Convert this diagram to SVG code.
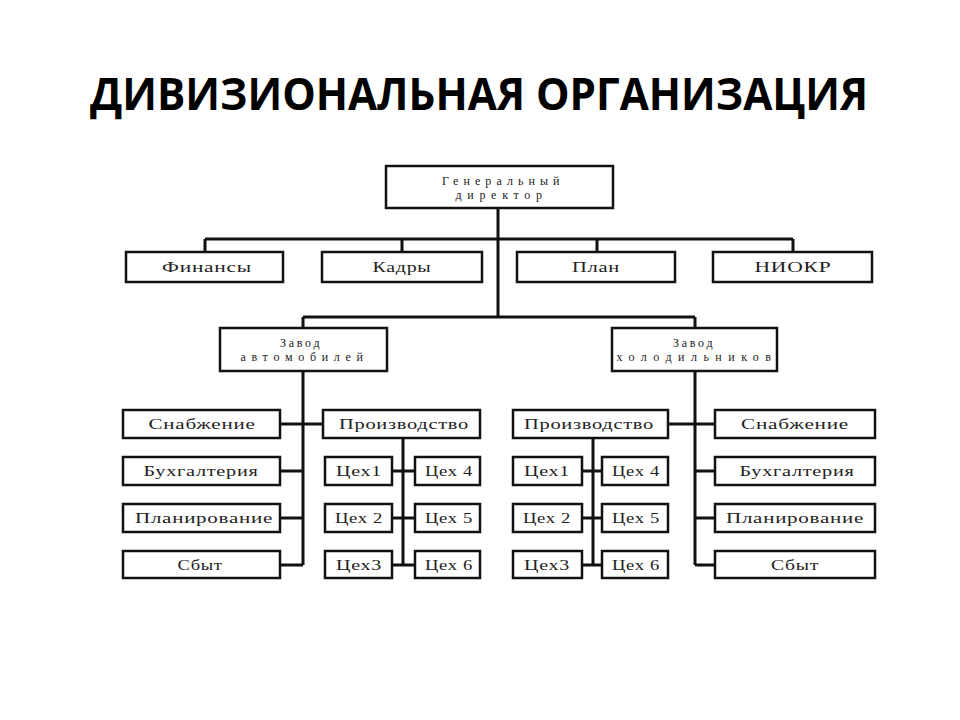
<svg xmlns="http://www.w3.org/2000/svg" width="960" height="720" viewBox="0 0 960 720">
<style>
.b{fill:#fff;stroke:#111;stroke-width:2.5}
.t{font-family:"Liberation Serif",serif;font-size:14px;fill:#222;text-anchor:middle;letter-spacing:0.5px}
.s{font-size:12px}
.c{fill:none;stroke:#111;stroke-width:3}
.title{font-family:"Open Sans","Liberation Sans",sans-serif;font-weight:bold;font-size:45px;fill:#000;text-anchor:middle}
</style>
<rect width="960" height="720" fill="#fff"/>
<text class="title" x="479" y="110" textLength="778" lengthAdjust="spacingAndGlyphs">ДИВИЗИОНАЛЬНАЯ ОРГАНИЗАЦИЯ</text>
<g id="connectors">
<path class="c" d="M498 208V317M205 239H793M205 239V252M402 239V252M597 239V252M793 239V252"/>
<path class="c" d="M303 317H695M303 317V328M695 317V328"/>
<path class="c" d="M303 371V565M280 424H325M280 471H303M280 518H303M280 565H303"/>
<path class="c" d="M403 438V565M392 471H415M392 518H415M392 565H415"/>
<path class="c" d="M695 371V565M668 424H715M695 471H715M695 518H715M695 565H715"/>
<path class="c" d="M593 438V565M582 471H602M582 518H602M582 565H602"/>
</g>
<g id="gen"><rect class="b" x="386" y="166" width="227" height="42"/><text class="t s" x="501" y="185" textLength="118">Генеральный</text><text class="t s" x="499" y="199" textLength="87">директор</text></g>
<g id="fin"><rect class="b" x="126" y="252" width="157" height="30"/><text class="t" x="207" y="272" textLength="90" lengthAdjust="spacingAndGlyphs">Финансы</text></g>
<g id="kadry"><rect class="b" x="322" y="252" width="160" height="30"/><text class="t" x="402" y="272" textLength="59" lengthAdjust="spacingAndGlyphs">Кадры</text></g>
<g id="plan"><rect class="b" x="517" y="252" width="158" height="30"/><text class="t" x="596" y="272" textLength="48" lengthAdjust="spacingAndGlyphs">План</text></g>
<g id="niokr"><rect class="b" x="713" y="252" width="159" height="30"/><text class="t" x="793" y="272" textLength="77" lengthAdjust="spacingAndGlyphs">НИОКР</text></g>
<g id="zavod-auto"><rect class="b" x="220" y="328" width="167" height="43"/><text class="t s" x="300" y="347" textLength="40">Завод</text><text class="t s" x="302" y="361" textLength="123">автомобилей</text></g>
<g id="zavod-hol"><rect class="b" x="612" y="328" width="165" height="43"/><text class="t s" x="693" y="347" textLength="40">Завод</text><text class="t s" x="694" y="361" textLength="155">холодильников</text></g>
<g id="l-snab"><rect class="b" x="123" y="410" width="157" height="28"/><text class="t" x="202" y="429" textLength="107" lengthAdjust="spacingAndGlyphs">Снабжение</text></g>
<g id="l-buh"><rect class="b" x="123" y="457" width="157" height="28"/><text class="t" x="201" y="476" textLength="115" lengthAdjust="spacingAndGlyphs">Бухгалтерия</text></g>
<g id="l-plan"><rect class="b" x="123" y="504" width="157" height="28"/><text class="t" x="204" y="523" textLength="138" lengthAdjust="spacingAndGlyphs">Планирование</text></g>
<g id="l-sbyt"><rect class="b" x="123" y="551" width="157" height="27"/><text class="t" x="200" y="570" textLength="45" lengthAdjust="spacingAndGlyphs">Сбыт</text></g>
<g id="l-proizv"><rect class="b" x="323" y="410" width="157" height="28"/><text class="t" x="404" y="429" textLength="130" lengthAdjust="spacingAndGlyphs">Производство</text></g>
<g id="l-c1"><rect class="b" x="325" y="457" width="67" height="28"/><text class="t" x="359" y="476" textLength="46" lengthAdjust="spacingAndGlyphs">Цех1</text></g>
<g id="l-c2"><rect class="b" x="325" y="504" width="67" height="28"/><text class="t" x="359" y="523" textLength="48" lengthAdjust="spacingAndGlyphs">Цех 2</text></g>
<g id="l-c3"><rect class="b" x="325" y="551" width="67" height="27"/><text class="t" x="359" y="570" textLength="46" lengthAdjust="spacingAndGlyphs">Цех3</text></g>
<g id="l-c4"><rect class="b" x="415" y="457" width="65" height="28"/><text class="t" x="449" y="476" textLength="48" lengthAdjust="spacingAndGlyphs">Цех 4</text></g>
<g id="l-c5"><rect class="b" x="415" y="504" width="65" height="28"/><text class="t" x="449" y="523" textLength="48" lengthAdjust="spacingAndGlyphs">Цех 5</text></g>
<g id="l-c6"><rect class="b" x="415" y="551" width="65" height="27"/><text class="t" x="449" y="570" textLength="48" lengthAdjust="spacingAndGlyphs">Цех 6</text></g>
<g id="r-proizv"><rect class="b" x="513" y="410" width="155" height="28"/><text class="t" x="589" y="429" textLength="130" lengthAdjust="spacingAndGlyphs">Производство</text></g>
<g id="r-c1"><rect class="b" x="513" y="457" width="69" height="28"/><text class="t" x="547" y="476" textLength="46" lengthAdjust="spacingAndGlyphs">Цех1</text></g>
<g id="r-c2"><rect class="b" x="513" y="504" width="69" height="28"/><text class="t" x="547" y="523" textLength="48" lengthAdjust="spacingAndGlyphs">Цех 2</text></g>
<g id="r-c3"><rect class="b" x="513" y="551" width="69" height="27"/><text class="t" x="547" y="570" textLength="46" lengthAdjust="spacingAndGlyphs">Цех3</text></g>
<g id="r-c4"><rect class="b" x="602" y="457" width="66" height="28"/><text class="t" x="636" y="476" textLength="48" lengthAdjust="spacingAndGlyphs">Цех 4</text></g>
<g id="r-c5"><rect class="b" x="602" y="504" width="66" height="28"/><text class="t" x="636" y="523" textLength="48" lengthAdjust="spacingAndGlyphs">Цех 5</text></g>
<g id="r-c6"><rect class="b" x="602" y="551" width="66" height="27"/><text class="t" x="636" y="570" textLength="48" lengthAdjust="spacingAndGlyphs">Цех 6</text></g>
<g id="r-snab"><rect class="b" x="715" y="410" width="160" height="28"/><text class="t" x="795" y="429" textLength="108" lengthAdjust="spacingAndGlyphs">Снабжение</text></g>
<g id="r-buh"><rect class="b" x="715" y="457" width="160" height="28"/><text class="t" x="797" y="476" textLength="115" lengthAdjust="spacingAndGlyphs">Бухгалтерия</text></g>
<g id="r-plan"><rect class="b" x="715" y="504" width="160" height="28"/><text class="t" x="795" y="523" textLength="138" lengthAdjust="spacingAndGlyphs">Планирование</text></g>
<g id="r-sbyt"><rect class="b" x="715" y="551" width="160" height="27"/><text class="t" x="795" y="570" textLength="48" lengthAdjust="spacingAndGlyphs">Сбыт</text></g>
</svg>
